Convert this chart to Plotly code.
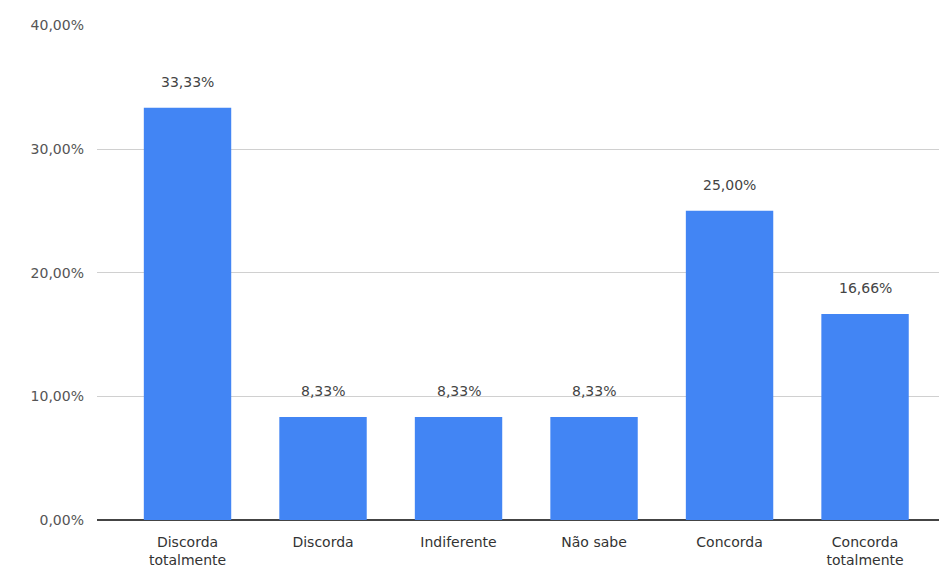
import plotly.graph_objects as go

categories = ["Discorda<br>totalmente", "Discorda", "Indiferente", "Não sabe", "Concorda", "Concorda<br>totalmente"]
values = [33.33, 8.33, 8.33, 8.33, 25.00, 16.66]
value_labels = ["33,33%", "8,33%", "8,33%", "8,33%", "25,00%", "16,66%"]
y_ticks = [0, 10, 20, 30, 40]
y_tick_labels = ["0,00%", "10,00%", "20,00%", "30,00%", "40,00%"]

FONT = "DejaVu Sans, Liberation Sans, Arial"

fig = go.Figure()
fig.add_trace(go.Bar(
    x=list(range(len(categories))),
    y=values,
    marker=dict(color="#4285F4", line=dict(width=0)),
    width=0.645,
    hoverinfo="skip",
))

for i, (v, t) in enumerate(zip(values, value_labels)):
    fig.add_annotation(x=i, y=v, text=t, showarrow=False, yanchor="bottom",
                       yshift=16, font=dict(family=FONT, size=14, color="#444444"))

fig.update_layout(
    width=939, height=562,
    margin=dict(l=89, r=2, t=17, b=50),
    plot_bgcolor="white", paper_bgcolor="white",
    showlegend=False,
    font=dict(family=FONT, size=14, color="#444444"),
    xaxis=dict(
        tickmode="array", tickvals=list(range(len(categories))), ticktext=categories,
        range=[-0.668, 5.59], showgrid=False, zeroline=False, showline=False,
        ticks="", ticklabelstandoff=12, automargin=False,
        tickfont=dict(family=FONT, size=14, color="#333333"),
    ),
    yaxis=dict(
        range=[0, 40.03], tickmode="array", tickvals=y_ticks, ticktext=y_tick_labels,
        showgrid=True, gridcolor="#D0D0D0", gridwidth=1,
        zeroline=True, zerolinecolor="#444444", zerolinewidth=1.5,
        showline=False, ticks="", ticklabelstandoff=12, automargin=False,
        tickfont=dict(family=FONT, size=14, color="#555555"),
    ),
)

fig.write_html("out.html")
